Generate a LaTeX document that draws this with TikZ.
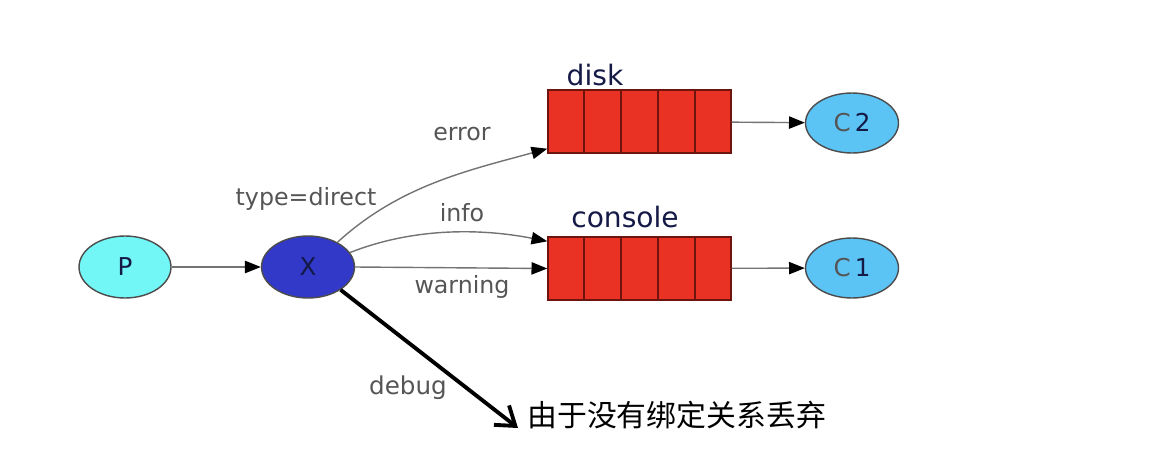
\documentclass[tikz,border=0pt]{standalone}
\usepackage{fontspec}
\usepackage{xcolor}
\usepackage{tikz}
\usetikzlibrary{arrows.meta,positioning,shapes,calc}
\newfontfamily\dejavu{DejaVu Sans}
\newfontfamily\cjk{Noto Sans CJK SC}
\definecolor{pcyan}{RGB}{115,246,246}
\definecolor{xblue}{RGB}{50,56,200}
\definecolor{cblue}{RGB}{92,196,245}
\definecolor{qred}{RGB}{234,50,36}
\definecolor{qdark}{RGB}{110,20,15}
\definecolor{lblgray}{RGB}{85,85,85}
\definecolor{navy}{RGB}{20,25,70}
\tikzset{
  agent/.style={ellipse, draw=black!70, thick, minimum width=1.84cm,
                minimum height=1.24cm, inner sep=0pt, text=navy,
                font=\dejavu\fontsize{14}{14}\selectfont},
  queuebox/.style={draw=qdark, thick, fill=qred, minimum width=3.66cm,
                   minimum height=1.26cm, inner sep=0pt},
  edge/.style={-{Triangle[length=9pt,width=7pt,color=black]}, draw=black!55, thick},
  keylbl/.style={font=\dejavu\fontsize{13.5}{14}\selectfont, text=lblgray, inner sep=0pt},
  qname/.style={font=\dejavu\fontsize{16}{16}\selectfont, text=navy, inner sep=0pt}
}

\begin{document}
\begin{tikzpicture}[x=0.02cm, y=-0.02cm]
    \useasboundingbox (0,0) rectangle (1162,453);

    % producer and exchange
    \node[agent, fill=pcyan] (P) at (125,267) {P};
    \node[agent, fill=xblue, minimum width=1.86cm] (X) at (308,267) {X};
    \draw[edge] (P) -- (X);

    % queues
    \node[queuebox] (disk)    at (639.5,121.5) {};
    \node[queuebox] (console) at (639.5,268.5) {};
    \foreach \q in {disk,console}{
      \foreach \i in {1,...,4}{
        \draw[qdark, thick] ($(\q.north west)!\i/5!(\q.north east)$)
          -- ($(\q.south west)!\i/5!(\q.south east)$);
      }
    }
    \node[qname] (diskname)    at (595,75)  {disk};
    \node[qname] (consolename) at (625,217) {console};

    % consumers
    \node[agent, fill=cblue, minimum width=1.86cm, minimum height=1.2cm] (C2) at (852,123)
      {{\color{lblgray}C}\,2};
    \node[agent, fill=cblue, minimum width=1.86cm, minimum height=1.2cm] (C1) at (852,268)
      {{\color{lblgray}C}\,1};
    \draw[edge] (disk) -- (C2);
    \draw[edge] (console) -- (C1);

    % bindings
    \draw[edge] (X.40) .. controls (400,185) and (470,170) .. ([yshift=0.1cm]disk.south west);
    \draw[edge] (X.19) .. controls (420,225) and (490,230) .. ([yshift=-0.1cm]console.north west);
    \draw[edge] (X.east) -- (console.west);

    \node[keylbl] (typelbl) at (306,199) {type=direct};
    \node[keylbl] (errlbl)  at (462,134) {error};
    \node[keylbl] (infolbl) at (462,213) {info};
    \node[keylbl] (warnlbl) at (462,287) {warning};

    % unbound key
    \coordinate (dbgEnd) at (518,428);
    \node[anchor=west, inner sep=0pt, font=\cjk\fontsize{17}{17}\selectfont] (drop)
      at (527,415) {由于没有绑定关系丢弃};
    \draw[line width=2.2pt, -{Straight Barb[length=10pt,width=14pt,line width=2.2pt]}]
      (X.-35) -- (dbgEnd);
    \node[keylbl, font=\dejavu\fontsize{14}{14}\selectfont] (dbglbl) at (408,388) {debug};
\end{tikzpicture}
\end{document}
